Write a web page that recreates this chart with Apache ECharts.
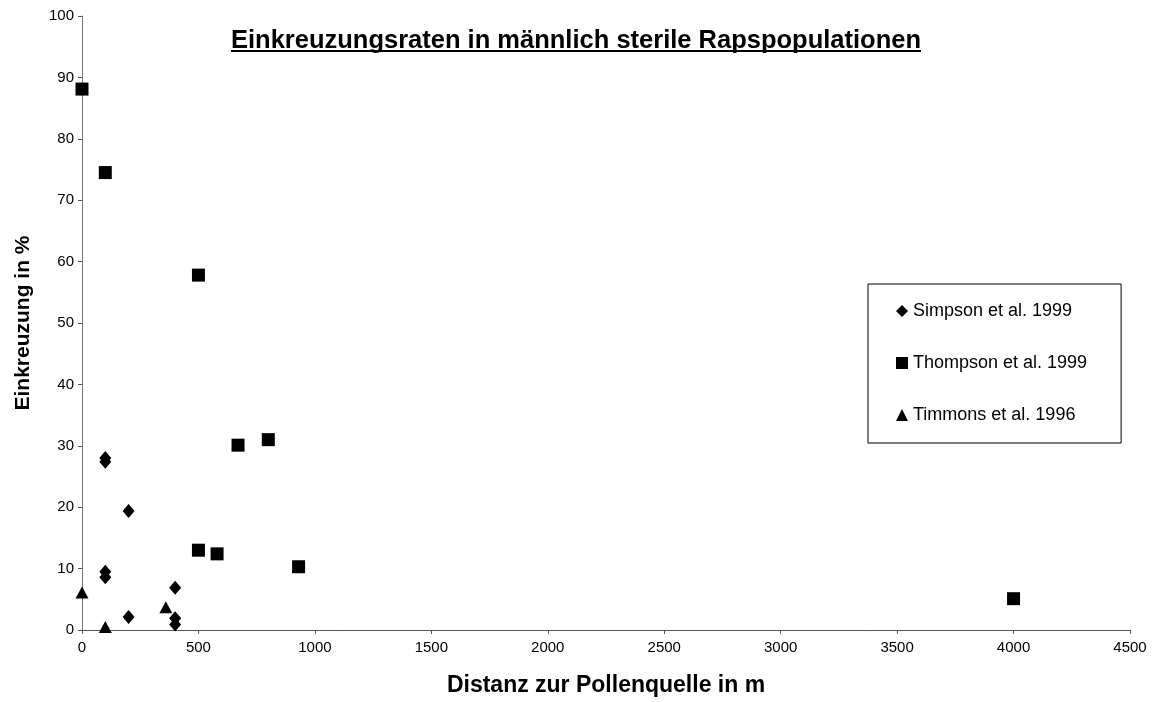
<!DOCTYPE html>
<html>
<head>
<meta charset="utf-8">
<script src="https://cdn.jsdelivr.net/npm/echarts@6/dist/echarts.min.js"></script>
<style>
  html, body { margin: 0; padding: 0; background: #fff; }
  #chart { width: 1152px; height: 702px; }
</style>
</head>
<body>
<div id="chart"></div>
<script>
// Einkreuzungsraten (Distanz in m, Einkreuzung in %)
var simpsonX = [100, 100, 200, 100, 100, 400, 200, 400, 400];
var simpsonY = [28, 27.4, 19.4, 9.5, 8.6, 6.9, 2.1, 1.9, 0.9];
var thompsonX = [0, 100, 500, 670, 800, 500, 580, 930, 4000];
var thompsonY = [88.1, 74.5, 57.8, 30.1, 31, 13, 12.4, 10.3, 5.1];
var timmonsX = [0, 100, 360];
var timmonsY = [6.1, 0.5, 3.7];

var seriesNames = ['Simpson et al. 1999', 'Thompson et al. 1999', 'Timmons et al. 1996'];

function pairs(xs, ys) {
  var out = [];
  for (var i = 0; i < xs.length; i++) out.push([xs[i], ys[i]]);
  return out;
}

var font = 'Arial, "Liberation Sans", sans-serif';
var titleSize = 25.5;
var chart = echarts.init(document.getElementById('chart'));

var option = {
  animation: false,
  backgroundColor: '#fff',
  textStyle: { fontFamily: font, color: '#000' },
  title: {
    text: 'Einkreuzungsraten in männlich sterile Rapspopulationen',
    left: 'center',
    top: 23,
    textStyle: { fontFamily: font, fontSize: titleSize, fontWeight: 'bold', color: '#000' }
  },
  legend: {
    orient: 'vertical',
    left: 868,
    top: 284,
    padding: [18, 34, 19, 28],
    itemGap: 34,
    itemWidth: 12,
    itemHeight: 12,
    borderColor: '#000',
    borderWidth: 1,
    textStyle: { fontFamily: font, fontSize: 18, color: '#000' },
    data: [
      { name: seriesNames[0], icon: 'diamond' },
      { name: seriesNames[1], icon: 'rect' },
      { name: seriesNames[2], icon: 'triangle' }
    ]
  },
  grid: { left: 82, right: 22, top: 16, bottom: 69 },
  xAxis: {
    type: 'value',
    min: 0,
    max: 4500,
    interval: 500,
    name: 'Distanz zur Pollenquelle in m',
    nameLocation: 'middle',
    nameGap: 44,
    nameTextStyle: { fontFamily: font, fontSize: 23, fontWeight: 'bold', color: '#000' },
    axisLine: { lineStyle: { color: '#555', width: 1 } },
    axisTick: { inside: false, length: 4, lineStyle: { color: '#555' } },
    axisLabel: {
      fontFamily: font, fontSize: 15, color: '#000', margin: 10,
      formatter: function (v) { return String(v); }
    },
    splitLine: { show: false }
  },
  yAxis: {
    type: 'value',
    min: 0,
    max: 100,
    interval: 10,
    name: 'Einkreuzung in %',
    nameLocation: 'middle',
    nameGap: 48,
    nameTextStyle: { fontFamily: font, fontSize: 21, fontWeight: 'bold', color: '#000' },
    axisLine: { show: true, lineStyle: { color: '#777', width: 1 } },
    axisTick: { show: true, length: 4, lineStyle: { color: '#555' } },
    axisLabel: {
      fontFamily: font, fontSize: 15, color: '#000', margin: 8,
      formatter: function (v) { return String(v); }
    },
    splitLine: { show: false }
  },
  series: [
    {
      name: seriesNames[0],
      type: 'scatter',
      symbol: 'diamond',
      symbolSize: [12, 14],
      itemStyle: { color: '#000', opacity: 1 },
      data: pairs(simpsonX, simpsonY)
    },
    {
      name: seriesNames[1],
      type: 'scatter',
      symbol: 'rect',
      symbolSize: 13,
      itemStyle: { color: '#000', opacity: 1 },
      data: pairs(thompsonX, thompsonY)
    },
    {
      name: seriesNames[2],
      type: 'scatter',
      symbol: 'triangle',
      symbolSize: [13, 12],
      itemStyle: { color: '#000', opacity: 1 },
      data: pairs(timmonsX, timmonsY)
    }
  ]
};

chart.setOption(option);

// underline under the title, matched to the title's drawn width
var ctx = document.createElement('canvas').getContext('2d');
ctx.font = 'bold ' + titleSize + 'px ' + font;
var tw = ctx.measureText(option.title.text).width;
var cx = 1152 / 2;
chart.setOption({
  graphic: [{
    type: 'line',
    shape: { x1: cx - tw / 2, y1: 51, x2: cx + tw / 2, y2: 51 },
    style: { stroke: '#000', lineWidth: 2 },
    silent: true
  }]
});
</script>
</body>
</html>
